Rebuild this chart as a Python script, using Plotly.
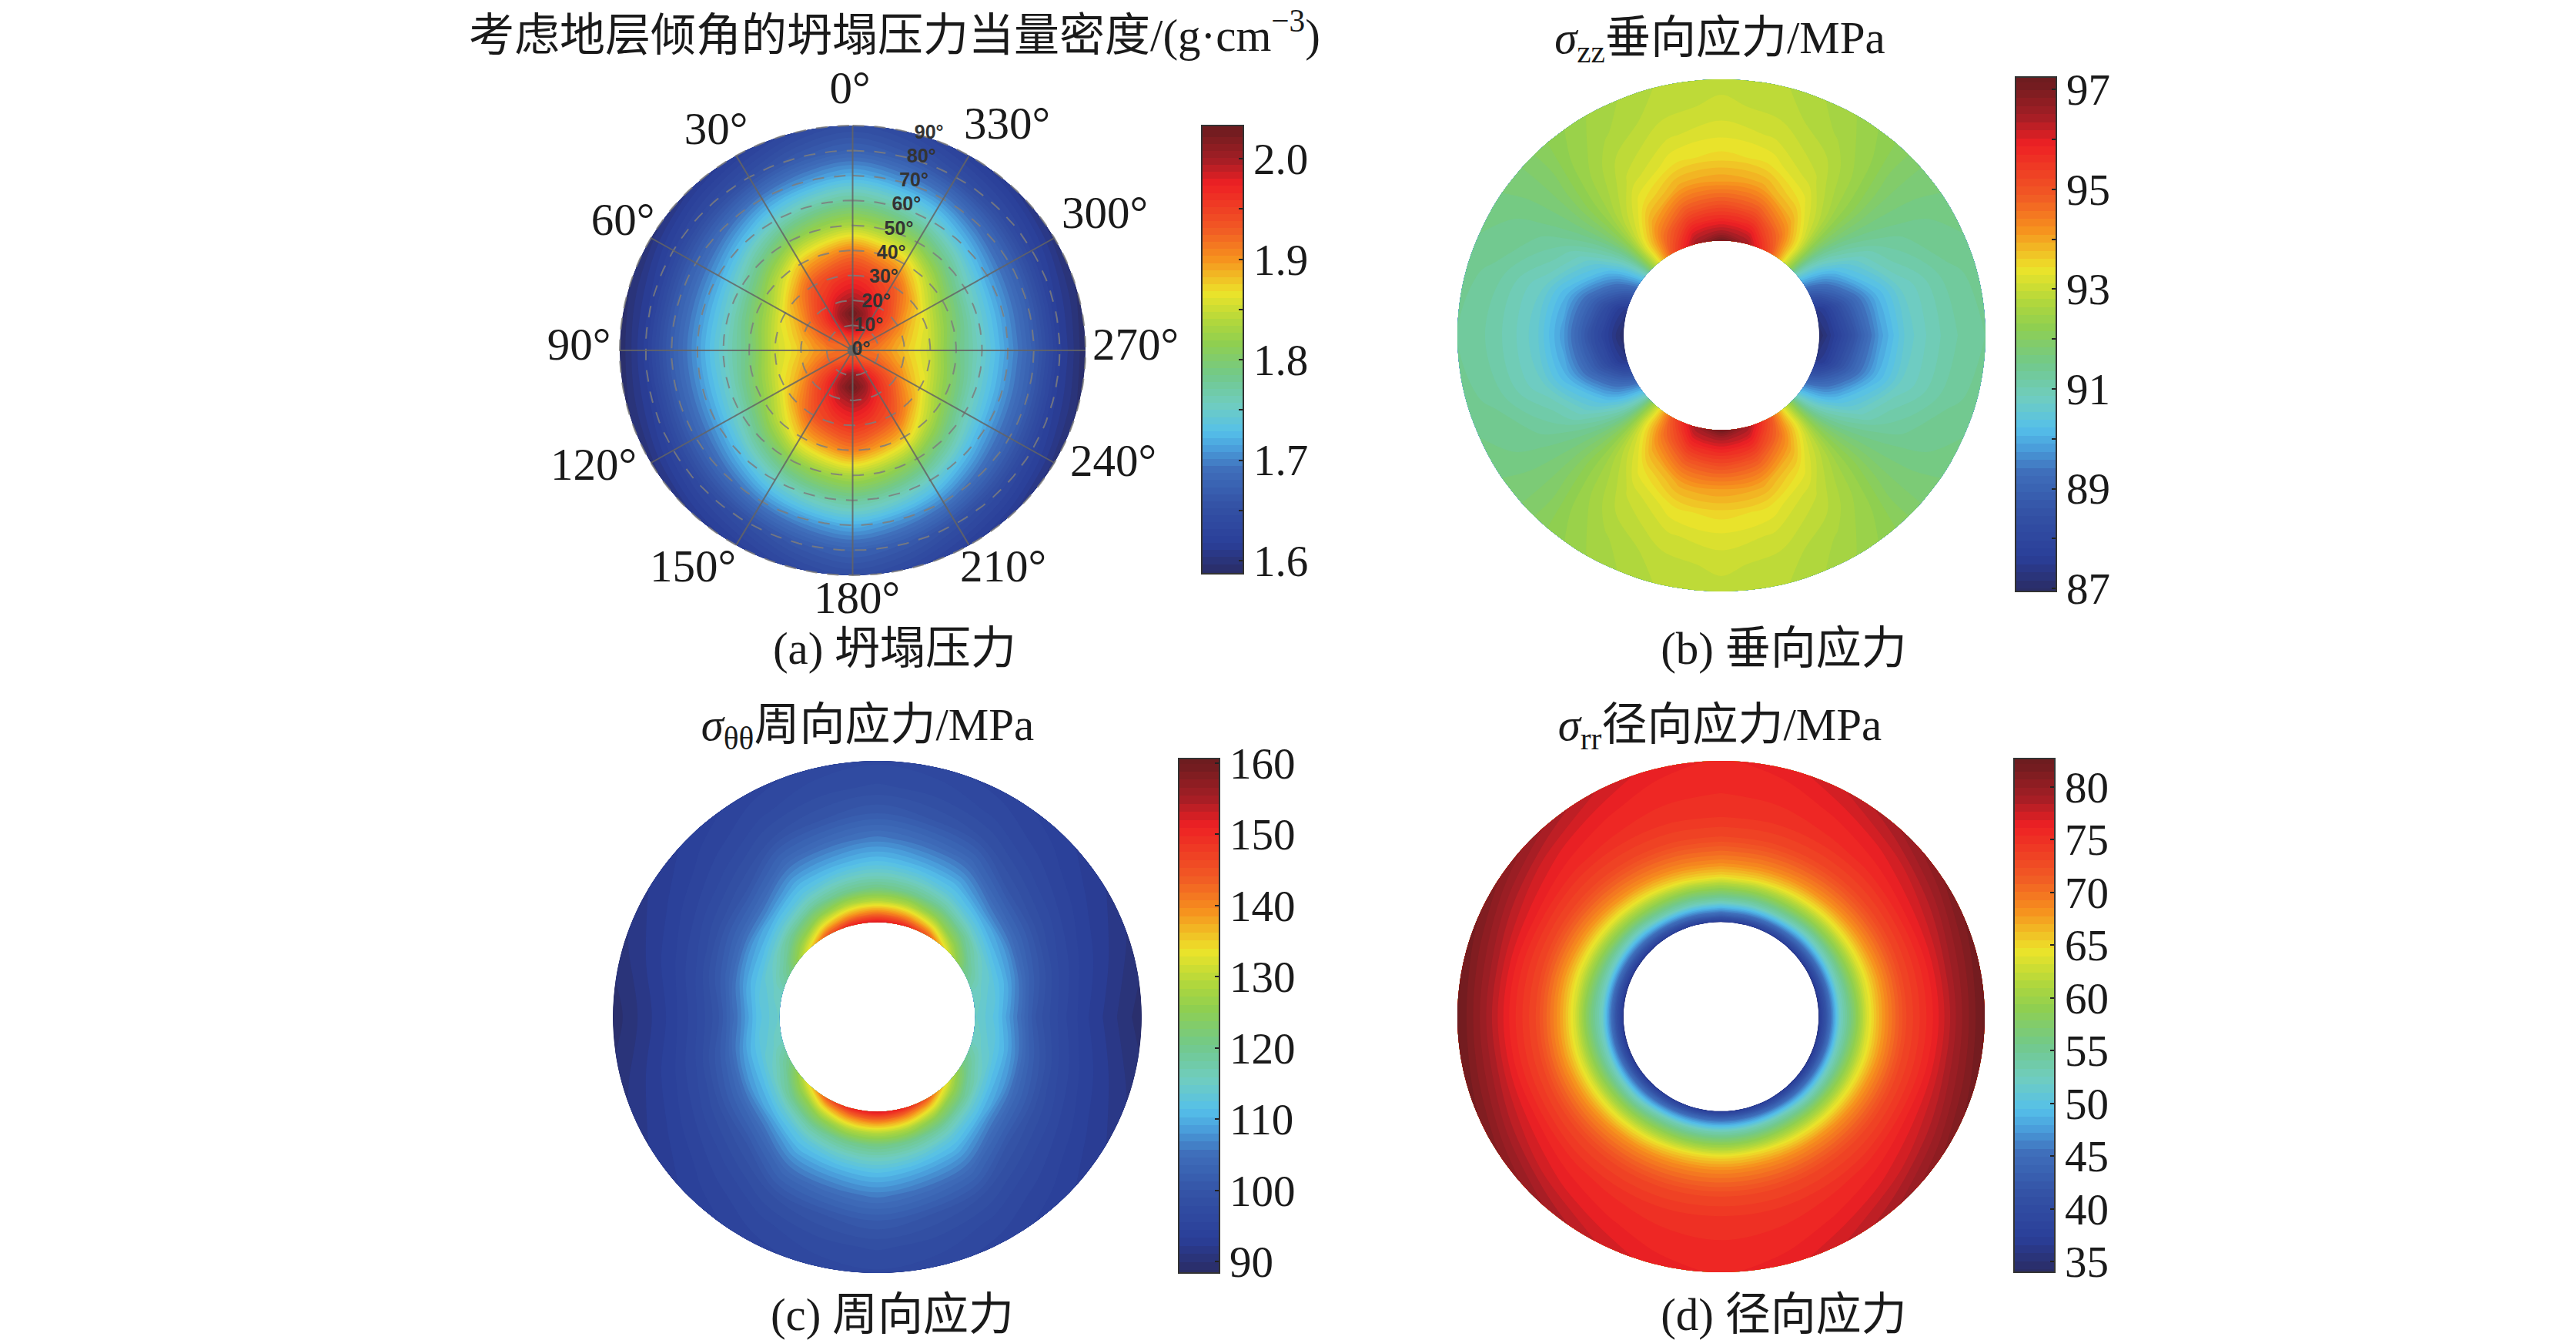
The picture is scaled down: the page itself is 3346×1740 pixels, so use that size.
import math

import plotly.graph_objects as go

W = 3346
H = 1740
SERIF = "Liberation Serif, Noto Sans CJK SC, serif"

# jet-like palette
BAR_COLORS = [
    [0.0, "#2a2d66"], [0.06, "#2a3e98"], [0.146, "#3351a5"], [0.23, "#3f6fbb"],
    [0.28, "#4aa0dc"], [0.316, "#55c0ea"], [0.376, "#6fcdc0"], [0.444, "#72c98a"],
    [0.516, "#8fcf50"], [0.57, "#b5d83a"], [0.63, "#ece42a"], [0.707, "#f6921e"],
    [0.775, "#f15a24"], [0.878, "#ed2024"], [0.93, "#a61e25"], [1.0, "#6e1c1f"],
]

# quadrant tables: rows are angles from the top, columns are radii
angles_a = [0, 15, 30, 45, 60, 75, 90]
radii_a = [0, 5, 10, 15, 20, 30, 40, 50, 60, 70, 80, 90]
collapse = [
    [1.92, 1.95, 2.01, 2.03, 2.00, 1.96, 1.91, 1.835, 1.775, 1.72, 1.675, 1.645],
    [1.92, 1.95, 2.00, 2.01, 1.99, 1.95, 1.895, 1.825, 1.765, 1.71, 1.665, 1.635],
    [1.92, 1.94, 1.97, 1.98, 1.965, 1.935, 1.88, 1.81, 1.75, 1.70, 1.65, 1.62],
    [1.92, 1.93, 1.95, 1.95, 1.94, 1.90, 1.845, 1.785, 1.73, 1.685, 1.64, 1.61],
    [1.92, 1.925, 1.93, 1.925, 1.91, 1.87, 1.815, 1.76, 1.715, 1.675, 1.63, 1.60],
    [1.92, 1.92, 1.92, 1.905, 1.89, 1.855, 1.80, 1.75, 1.71, 1.67, 1.62, 1.595],
    [1.92, 1.92, 1.91, 1.895, 1.88, 1.85, 1.79, 1.75, 1.71, 1.67, 1.62, 1.59],
]

angles_b = [0, 15, 30, 40, 45, 50, 60, 75, 90]
radii_b = [0.37, 0.40, 0.45, 0.50, 0.60, 0.70, 0.80, 0.90, 1.0]
vertical = [
    [97.2, 96.5, 95.8, 95.2, 94.1, 93.5, 93.2, 93.0, 92.9],
    [96.5, 96.2, 95.6, 95.0, 94.0, 93.4, 93.1, 92.9, 92.8],
    [95.0, 94.8, 94.5, 94.1, 93.4, 93.0, 92.8, 92.6, 92.5],
    [93.2, 93.2, 93.2, 93.0, 92.7, 92.5, 92.4, 92.3, 92.2],
    [92.2, 92.2, 92.2, 92.2, 92.2, 92.2, 92.1, 92.0, 92.0],
    [90.9, 91.0, 91.2, 91.4, 91.7, 91.8, 91.8, 91.8, 91.8],
    [89.3, 89.5, 89.8, 90.2, 90.8, 91.2, 91.4, 91.5, 91.6],
    [87.4, 87.6, 88.3, 88.9, 90.0, 90.7, 91.0, 91.3, 91.4],
    [87.0, 87.3, 87.9, 88.5, 89.8, 90.6, 90.95, 91.2, 91.35],
]

angles_cd = [0, 15, 30, 45, 60, 75, 90]
radii_cd = [0.37, 0.40, 0.45, 0.50, 0.55, 0.60, 0.70, 0.80, 0.90, 1.0]
hoop = [
    [153, 143, 130, 121, 116, 112, 106, 101, 98, 96.5],
    [151, 141, 129, 120, 115, 111, 105, 100, 97.5, 96],
    [145, 136, 125, 118, 113, 110, 104, 99, 96.5, 95],
    [133, 127, 120, 114, 110, 106, 100, 97, 95, 93.7],
    [122, 119, 115, 111, 108, 104, 98.5, 95.5, 93.5, 92.2],
    [116, 115, 113, 110, 106, 102, 97, 94.2, 92.3, 90.6],
    [115, 114, 112, 108, 104, 100, 96, 93.3, 91.2, 89.2],
]
radial = [
    [37, 44, 53, 59, 65, 68.5, 73, 75, 75.5, 76],
    [37, 44, 53, 59, 65, 68.5, 73, 75, 75.7, 76.5],
    [37, 43.5, 53, 59, 64.5, 68.3, 73, 75.2, 76.3, 77.8],
    [36.5, 43, 52, 58.5, 64, 68, 73, 75.5, 77.2, 79.5],
    [36, 42.5, 52, 58, 63.5, 67.5, 73, 76, 78.3, 81],
    [36, 42, 52, 57.5, 63, 67, 73, 76, 79.3, 82],
    [36, 42, 52, 57, 63, 67, 73, 76, 79.5, 82.5],
]

# colour bar ticks, blank labels are the minor ticks
BLANK = "\u00a0"
ticks_a = [1.6, 1.65, 1.7, 1.75, 1.8, 1.85, 1.9, 1.95, 2.0]
ticktext_a = ["1.6", BLANK, "1.7", BLANK, "1.8", BLANK, "1.9", BLANK, "2.0"]
ticks_b = [87, 88, 89, 90, 91, 92, 93, 94, 95, 96, 97]
ticktext_b = ["87", BLANK, "89", BLANK, "91", BLANK, "93", BLANK, "95", BLANK, "97"]
ticks_c = [90, 100, 110, 120, 130, 140, 150, 160]
ticks_d = [35, 40, 45, 50, 55, 60, 65, 70, 75, 80]

# frame of panel (a)
polar_angles = [0, 30, 60, 90, 120, 150, 180, 210, 240, 270, 300, 330]
polar_rings = [10, 20, 30, 40, 50, 60, 70, 80, 90]

titles = [
    "考虑地层倾角的坍塌压力当量密度/(g·cm<sup>−3</sup>)",
    "<i>σ</i><sub>zz</sub>垂向应力/MPa",
    "<i>σ</i><sub>θθ</sub>周向应力/MPa",
    "<i>σ</i><sub>rr</sub>径向应力/MPa",
    "(a) 坍塌压力",
    "(b) 垂向应力",
    "(c) 周向应力",
    "(d) 径向应力",
]

# page pixels for the texts
TITLE_X = [1162, 2234, 1127, 2234, 1162, 2317, 1159, 2317]
TITLE_Y = [51, 54, 946, 946, 847, 847, 1712, 1712]
ANGLE_X = [1104, 930, 809, 752, 771, 900, 1113, 1303, 1446, 1475, 1435, 1308]
ANGLE_Y = [119, 172, 290, 452, 608, 740, 781, 740, 603, 452, 281, 165]
CENTER_A = (1107.5, 455)

fig = go.Figure()


def sin_cos(deg):
    return math.sin(math.radians(deg)), math.cos(math.radians(deg))


def full_circle(angles, table, side_seam):
    # the fields are symmetric about both axes, so unfold the quadrant
    b = list(angles)
    z = [list(row) for row in table]
    for a, row in zip(reversed(angles[:-1]), reversed(table[:-1])):
        b.append(180 - a)
        z.append(list(row))
    for a, row in zip(angles[1:], table[1:]):
        b.append(180 + a)
        z.append(list(row))
    for a, row in zip(reversed(angles[:-1]), reversed(table[:-1])):
        b.append(360 - a)
        z.append(list(row))
    if side_seam:
        # start the carpet at the side, the low levels then do not cross the seam
        k = b.index(90)
        b = b[k:] + [t + 360 for t in b[1:k + 1]]
        z = z[k:] + z[1:k + 1]
    return b, z


def add_field(n, box, radii, angles, table, vrange, bar_box, tickvals, ticktext, rmax=1.0, side_seam=True):
    # box and bar_box are pixel extents: left, right, top, bottom
    left, right, top, bottom = box
    dx = (right - left) * 0.005
    dy = (bottom - top) * 0.005
    suffix = "" if n == 1 else str(n)
    fig.update_layout({
        "xaxis" + suffix: dict(domain=[(left - dx) / W, (right + dx) / W], range=[-1.01, 1.01],
                               visible=False, fixedrange=True),
        "yaxis" + suffix: dict(domain=[1 - (bottom + dy) / H, 1 - (top - dy) / H], range=[-1.01, 1.01],
                               visible=False, fixedrange=True),
    })
    b, z = full_circle(angles, table, side_seam)
    x = [[r / rmax * sin_cos(t)[0] for r in radii] for t in b]
    y = [[r / rmax * sin_cos(t)[1] for r in radii] for t in b]
    name = "c" + str(n)
    hidden = dict(showgrid=False, showline=False, showticklabels="none", startline=False,
                  endline=False, minorgridcount=0, smoothing=1, tickmode="array", tickvals=[])
    fig.add_trace(go.Carpet(a=radii, b=b, x=x, y=y, carpet=name, aaxis=hidden, baxis=hidden,
                            xaxis="x" + suffix, yaxis="y" + suffix))
    vmin, vmax = vrange
    step = (vmax - vmin) / 64
    bar_left, bar_right, bar_top, bar_bottom = bar_box
    fig.add_trace(go.Contourcarpet(
        a=radii, b=b, z=z, carpet=name, xaxis="x" + suffix, yaxis="y" + suffix,
        colorscale=BAR_COLORS, zmin=vmin, zmax=vmax, autocontour=False,
        # offset keeps the levels off the exact table values, which breaks the fill paths
        contours=dict(coloring="fill", showlines=False, start=vmin + step * 0.37, end=vmax, size=step),
        line=dict(width=0),
        colorbar=dict(
            x=bar_left / W, xanchor="left", xpad=0, y=1 - bar_top / H, yanchor="top", ypad=0,
            thicknessmode="pixels", thickness=bar_right - bar_left,
            lenmode="pixels", len=bar_bottom - bar_top,
            outlinecolor="#333333", outlinewidth=2, ticks="inside", ticklen=7, tickwidth=2,
            tickcolor="#222222", tickmode="array", tickvals=tickvals, ticktext=ticktext,
            tickfont=dict(family=SERIF, size=57, color="#1a1a1a"),
        ),
    ))


add_field(1, (805, 1410, 163, 747), radii_a, angles_a, collapse, (1.587, 2.033),
          (1561, 1615, 163, 745), ticks_a, ticktext_a, rmax=90.0)
add_field(2, (1893, 2579, 103, 768), radii_b, angles_b, vertical, (86.94, 97.25),
          (2618, 2671, 100, 768), ticks_b, ticktext_b)
add_field(3, (796, 1483, 988, 1653), radii_cd, angles_cd, hoop, (88.4, 160.6),
          (1531, 1584, 985, 1653), ticks_c, [str(v) for v in ticks_c])
add_field(4, (1893, 2578, 988, 1652), radii_cd, angles_cd, radial, (34.0, 82.7),
          (2616, 2669, 985, 1652), ticks_d, [str(v) for v in ticks_d], side_seam=False)

# polar frame of panel (a), drawn over the field
for ring in polar_rings:
    circle = list(range(0, 361, 3))
    fig.add_trace(go.Scatter(
        x=[ring / 90 * sin_cos(t)[0] for t in circle],
        y=[ring / 90 * sin_cos(t)[1] for t in circle],
        mode="lines", line=dict(color="rgba(125,125,125,0.85)", width=2, dash="15px,13px"),
        hoverinfo="skip", showlegend=False, xaxis="x", yaxis="y",
    ))
for t in polar_angles:
    fig.add_trace(go.Scatter(
        x=[0, sin_cos(t)[0]], y=[0, sin_cos(t)[1]],
        mode="lines", line=dict(color="rgba(100,100,100,0.85)", width=2),
        hoverinfo="skip", showlegend=False, xaxis="x", yaxis="y",
    ))
fig.add_trace(go.Scatter(x=[0], y=[0], mode="markers", marker=dict(color="#666666", size=14),
                         hoverinfo="skip", showlegend=False, xaxis="x", yaxis="y"))

# page-sized axes for the texts, so they can sit in pixels
fig.update_layout(
    xaxis5=dict(domain=[0, 1], range=[0, W], visible=False, fixedrange=True),
    yaxis5=dict(domain=[0, 1], range=[H, 0], visible=False, fixedrange=True),
)


def add_texts(xs, ys, texts, size, family=SERIF, color="#1a1a1a"):
    fig.add_trace(go.Scatter(
        x=xs, y=ys, text=texts, mode="text", textposition="middle center",
        textfont=dict(family=family, size=size, color=color), cliponaxis=False,
        hoverinfo="skip", showlegend=False, xaxis="x5", yaxis="y5",
    ))


add_texts(TITLE_X, TITLE_Y, titles, 59)
add_texts(ANGLE_X, ANGLE_Y, [f"{t}°" for t in polar_angles], 59)

ring_labels = [0] + polar_rings
add_texts([CENTER_A[0] + 11 + 0.98 * r for r in ring_labels],
          [CENTER_A[1] - 3.13 * r for r in ring_labels],
          [f"<b>{r}°</b>" for r in ring_labels], 25, family="Liberation Sans", color="#333333")

# transparent plot areas, the text axes lie over the whole page
fig.update_layout(
    width=W, height=H, autosize=False, margin=dict(l=0, r=0, t=0, b=0),
    paper_bgcolor="white", plot_bgcolor="rgba(0,0,0,0)", showlegend=False,
)
fig.write_html("out.html", config={"displayModeBar": False},
               post_script="document.body.style.margin='0';")
